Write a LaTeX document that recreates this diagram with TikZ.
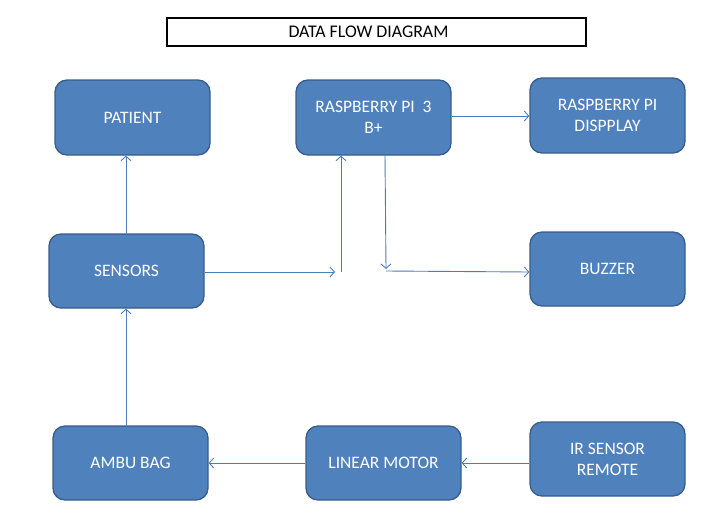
\documentclass[tikz,border=0pt]{standalone}
\usepackage{fontspec}
\setmainfont{Carlito}
\usetikzlibrary{arrows.meta}
\definecolor{boxfill}{HTML}{4F81BD}
\definecolor{boxline}{HTML}{385D8A}
\definecolor{arrcol}{HTML}{4A7EBB}
\tikzset{
  blk/.style={rectangle, rounded corners=12pt, fill=boxfill, draw=boxline, line width=1.3pt,
    minimum width=155pt, minimum height=75pt, text=white, align=center,
    font=\fontsize{17.5}{21}\selectfont, inner sep=0pt},
  arr/.style={draw=arrcol, line width=0.9pt, -{Straight Barb[length=4.5pt,width=10pt]}},
  ln/.style={draw=arrcol, line width=0.9pt}
}
\begin{document}
\begin{tikzpicture}[x=1pt,y=-1pt]
\useasboundingbox (0,0) rectangle (719,525);
\node[draw=black, line width=1.6pt, minimum width=419pt, minimum height=28pt, inner sep=0pt,
  font=\fontsize{17.8}{21}\selectfont] (title) at (376.5,32) {\hspace*{-16pt}DATA FLOW DIAGRAM};
\node[blk] (pat) at (132.5,117.5) {PATIENT};
\node[blk] (rpi) at (373.5,117.5) {RASPBERRY PI\ \ 3\\B+};
\node[blk] (disp) at (607.5,115.5) {RASPBERRY PI\\DISPPLAY};
\node[blk, minimum height=74pt] (sen) at (126.5,271) {SENSORS};
\node[blk, minimum height=74pt] (buz) at (607.5,269) {BUZZER};
\node[blk, minimum height=74pt] (amb) at (130.5,463) {AMBU BAG};
\node[blk, minimum height=74pt] (lin) at (383.5,463) {LINEAR MOTOR};
\node[blk, minimum height=74pt] (ir) at (607.5,459) {IR SENSOR\\REMOTE};
\coordinate (j1) at (335,272);
\coordinate (j2) at (341,272);
\coordinate (j3) at (385,155);
\coordinate (j4) at (386,269);
\coordinate (j5) at (386,271);
\draw[arr] (126,234) coordinate (s1) -- (s1 |- pat.south);
\draw[arr] (126,426) coordinate (a1) -- (a1 |- sen.south);
\draw[arr] (sen.east |- j1) -- (j1);
\draw[arr] (j2) -- (j2 |- rpi.south);
\draw[arr] (j3) -- (j4);
\draw[arr] (j5) -- (buz.west |- 0,272);
\draw[arr] (rpi.east |- 0,116) -- (disp.west |- 0,116);
\draw[arr] (ir.west |- 0,463) -- (lin.east);
\draw[arr] (lin.west) -- (amb.east);
\end{tikzpicture}
\end{document}
